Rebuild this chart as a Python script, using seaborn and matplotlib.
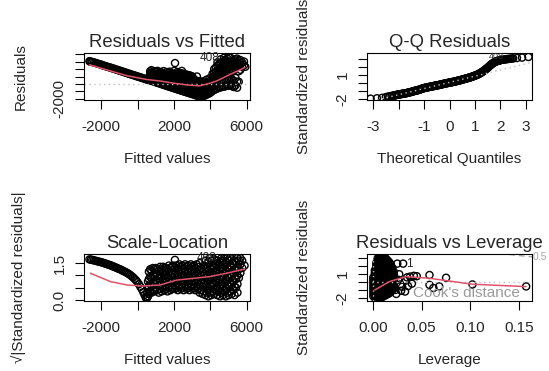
import matplotlib
matplotlib.use("Agg")
import matplotlib.pyplot as plt
import seaborn as sns
import pandas as pd

# ---------------- data ----------------
# Panel 1: Residuals vs Fitted -- left arm of points
fitted_arm = [-2650, -2600, -2540, -2480, -2400, -2330, -2250, -2170, -2090, -2000,
              -1920, -1840, -1760, -1680, -1600, -1520, -1440, -1360, -1280, -1200,
              -1120, -1040, -960, -880, -800, -720, -640, -560, -480, -400,
              -320, -240, -160, -80, 0, 80, 160, 240, 320, 400, 480, 560, 640]
resid_arm = [3050, 2990, 2970, 2930, 2880, 2830, 2760, 2700, 2650, 2590,
             2500, 2450, 2380, 2320, 2260, 2210, 2140, 2080, 2020, 1950,
             1890, 1820, 1770, 1690, 1640, 1570, 1510, 1440, 1380, 1320,
             1250, 1190, 1130, 1060, 1000, 940, 880, 810, 750, 690, 620, 560, 500]
# Panel 1: dense cloud, one column of residuals per fitted value
fitted_cols = [690, 760, 845, 930, 1010, 1095, 1180, 1260, 1345, 1430,
               1510, 1595, 1680, 1760, 1845, 1930, 2010, 2055, 2095, 2180,
               2260, 2345, 2430, 2510, 2595, 2680, 2760, 2845, 2930, 3010,
               3095, 3180, 3260, 3345, 3430, 3510, 3600, 3690, 3780, 3860,
               3950, 4040,
               4120, 4210, 4300, 4390, 4480, 4570, 4660, 4750, 4840, 4930,
               5020, 5110, 5200, 5290, 5380, 5470, 5560, 5650, 5740, 5850, 5920]
resid_cols = [
    [480, 900, 1300, 1700], [420, 760, 1150, 1550, 1850], [360, 690, 1080, 1450],
    [290, 640, 980, 1350, 1700], [220, 560, 950, 1300, 1600], [150, 480, 880, 1250, 1750],
    [90, 430, 800, 1180, 1500], [20, 380, 740, 1120, 1600], [-50, 300, 680, 1050, 1420],
    [-120, 230, 600, 1000, 1380, 1720], [-180, 160, 540, 930, 1300],
    [-250, 100, 470, 860, 1250, 1600], [-320, 30, 400, 790, 1180, 1500],
    [-380, -30, 350, 740, 1120, 1650], [-450, -100, 280, 670, 1050, 1420],
    [-520, -160, 220, 600, 990, 1380], [-580, -220, 160, 540, 930, 1330, 1750],
    [2800], [-650, -290, 90, 480, 870, 1250], [-720, -350, 30, 420, 800, 1200, 1600],
    [-780, -410, -30, 360, 750, 1150, 1500], [-850, -480, -90, 300, 680, 1080, 1450],
    [-910, -540, -150, 240, 620, 1020, 1400, 1750], [-980, -600, -210, 180, 560, 960, 1350],
    [-1040, -660, -270, 120, 500, 900, 1300], [-1110, -730, -340, 60, 440, 850, 1250],
    [-1170, -790, -400, 0, 390, 800, 1200], [-1240, -850, -460, -60, 330, 740, 1150],
    [-1300, -910, -520, -120, 270, 680, 1080], [-1360, -970, -580, -180, 210, 620, 1000],
    [-1430, -1040, -640, -240, 150, 560], [-1500, -1100, -700, -300, 100, 500],
    [-1570, -1170, -760, -360, 50, 1000], [-1640, -1230, -820, -420, -10, 380],
    [-1700, -1290, -880, -470, -60, 320], [-1720, -1320, -920, -520, -100],
    [-1650, -1260, -860, -450, -50, 350], [-1550, -1150, -760, -350, 60],
    [-1450, -1050, -650, -250, 150, 550], [-1350, -950, -550, -150, 250],
    [-1250, -850, -450, -50, 350, 750], [-1100, -700, -300, 100, 500],
    [-900, -300, 300, 900, 1350], [-800, -200, 450, 1000, 1500, 2000],
    [-700, -100, 600, 1100, 1600, 2200], [-600, 0, 750, 1250, 1750, 2450, 2900],
    [-500, 150, 900, 1400, 1950, 2650], [-450, 250, 1000, 1550, 2150, 2850, 3300],
    [-400, 300, 1100, 1700, 2300, 2900], [-350, 400, 1250, 1850, 2500, 3100, 3500],
    [-300, 500, 1400, 2000, 2650, 3250], [-250, 600, 1500, 2100, 2750, 3400],
    [-200, 700, 1600, 2250, 2900, 3550], [-150, 800, 1700, 2350, 3000, 3500],
    [-300, 600, 1800, 2500, 3100], [-400, 400, 1900, 2600, 3200],
    [-200, 800, 2100, 2700, 3300], [-500, 300, 2300, 2900, 3400],
    [300, 1700, 2500, 3100], [1900, 2600, 3200], [2300, 2900], [2500, 3000], [2300],
]
smooth1_x = [-2650, -1500, -580, 500, 1230, 2000, 2800, 3400, 3900, 4350, 5100, 5900]
smooth1_y = [2570, 1750, 1100, 600, 400, 100, -150, -260, 50, 400, 1300, 2200]

# Panel 2: Q-Q Residuals
qq_theoretical = [
    -3.1, -2.85, -2.65, -2.5, -2.42, -2.35, -2.28, -2.2,
    -2.15, -2.1, -2.05, -2.0, -1.95, -1.9, -1.85, -1.8, -1.75, -1.7,
    -1.65, -1.6, -1.55, -1.5, -1.45, -1.4, -1.35, -1.3, -1.25, -1.2,
    -1.15, -1.1, -1.05, -1.0, -0.95, -0.9, -0.85, -0.8, -0.75, -0.7,
    -0.65, -0.6, -0.55, -0.5, -0.45, -0.4, -0.35, -0.3, -0.25, -0.2,
    -0.15, -0.1, -0.05, 0.0, 0.05, 0.1, 0.15, 0.2, 0.25, 0.3,
    0.35, 0.4, 0.45, 0.5, 0.55, 0.6, 0.65, 0.7, 0.75, 0.8,
    0.85, 0.9, 0.95, 1.0, 1.05, 1.1, 1.15, 1.2, 1.25, 1.3,
    1.35, 1.4, 1.45, 1.5, 1.55, 1.6, 1.65, 1.7, 1.75, 1.8,
    1.85, 1.9, 1.95, 2.0, 2.1, 2.2, 2.3, 2.4, 2.5, 2.65, 2.85, 3.1,
]
qq_std_resid = [
    -1.95, -1.9, -1.85, -1.75, -1.7, -1.65, -1.6, -1.56,
    -1.53, -1.5, -1.46, -1.43, -1.40, -1.37, -1.35, -1.32, -1.29, -1.26,
    -1.22, -1.18, -1.14, -1.10, -1.05, -1.0, -0.96, -0.92, -0.88, -0.84,
    -0.78, -0.72, -0.67, -0.62, -0.58, -0.55, -0.51, -0.48, -0.45, -0.42,
    -0.38, -0.35, -0.31, -0.28, -0.25, -0.22, -0.18, -0.14, -0.1, -0.07,
    -0.03, 0.0, 0.04, 0.07, 0.1, 0.13, 0.17, 0.2, 0.24, 0.28,
    0.32, 0.36, 0.4, 0.45, 0.49, 0.54, 0.58, 0.63, 0.67, 0.72,
    0.77, 0.83, 0.89, 0.95, 1.01, 1.08, 1.16, 1.25, 1.35, 1.45,
    1.57, 1.7, 1.82, 1.95, 2.1, 2.25, 2.38, 2.5, 2.6, 2.7,
    2.76, 2.82, 2.86, 2.9, 2.95, 3.0, 3.05, 3.08, 3.12, 3.17, 3.22, 3.3,
]
# further points of the dense part of the Q-Q band
qq_theoretical_mid = [
    -2.175, -2.125, -2.075, -2.025, -1.975, -1.925, -1.875, -1.825, -1.775, -1.725,
    -1.675, -1.625, -1.575, -1.525, -1.475, -1.425, -1.375, -1.325, -1.275, -1.225,
    -1.175, -1.125, -1.075, -1.025, -0.975, -0.925, -0.875, -0.825, -0.775, -0.725,
    -0.675, -0.625, -0.575, -0.525, -0.475, -0.425, -0.375, -0.325, -0.275, -0.225,
    -0.175, -0.125, -0.075, -0.025, 0.025, 0.075, 0.125, 0.175, 0.225, 0.275,
    0.325, 0.375, 0.425, 0.475, 0.525, 0.575, 0.625, 0.675, 0.725, 0.775,
    0.825, 0.875, 0.925, 0.975, 1.025, 1.075, 1.125, 1.175, 1.225, 1.275,
    1.325, 1.375, 1.425, 1.475, 1.525, 1.575, 1.625, 1.675, 1.725, 1.775,
    1.825, 1.875, 1.925, 1.975, 2.05, 2.15, 2.25, 2.35, 2.45,
]
qq_std_resid_mid = [
    -1.545, -1.515, -1.48, -1.445, -1.415, -1.385, -1.36, -1.335, -1.305, -1.275,
    -1.24, -1.2, -1.16, -1.12, -1.075, -1.025, -0.98, -0.94, -0.9, -0.86,
    -0.81, -0.75, -0.695, -0.645, -0.6, -0.565, -0.53, -0.495, -0.465, -0.435,
    -0.4, -0.365, -0.33, -0.295, -0.265, -0.235, -0.2, -0.16, -0.12, -0.085,
    -0.05, -0.015, 0.02, 0.055, 0.085, 0.115, 0.15, 0.185, 0.22, 0.26,
    0.3, 0.34, 0.38, 0.425, 0.47, 0.515, 0.56, 0.605, 0.65, 0.695,
    0.745, 0.8, 0.86, 0.92, 0.98, 1.045, 1.12, 1.205, 1.3, 1.4,
    1.51, 1.635, 1.76, 1.885, 2.025, 2.175, 2.315, 2.44, 2.55, 2.65,
    2.73, 2.79, 2.84, 2.88, 2.93, 2.975, 3.025, 3.065, 3.1,
]
qqline_x = [-3.4, 3.4]
qqline_y = [-2.55, 2.75]

# Panel 3: Scale-Location -- left arm
sl_fitted_arm = [-2650, -2570, -2490, -2410, -2330, -2250, -2170, -2090, -2010, -1930,
                 -1850, -1770, -1690, -1610, -1530, -1450, -1370, -1290, -1210, -1130,
                 -1050, -970, -890, -810, -730, -650, -570, -490, -410, -330,
                 -250, -170, -90, -10, 70, 150, 230, 310, 380, 440, 490]
sl_sqrt_arm = [1.65, 1.64, 1.63, 1.61, 1.60, 1.58, 1.57, 1.55, 1.54, 1.52,
               1.50, 1.48, 1.46, 1.44, 1.42, 1.40, 1.37, 1.35, 1.32, 1.30,
               1.27, 1.25, 1.22, 1.19, 1.16, 1.13, 1.10, 1.06, 1.02, 0.97,
               0.92, 0.86, 0.80, 0.73, 0.64, 0.54, 0.44, 0.32, 0.21, 0.12, 0.05]
# Panel 3: cloud columns
sl_fitted_cols = [520, 570, 620, 690, 760, 840, 920, 1000, 1080, 1160,
                  1240, 1320, 1400, 1480, 1560, 1640, 1720, 1800, 1880, 1960,
                  2050, 2130, 2210, 2290, 2370, 2450, 2530, 2610, 2690, 2770,
                  2850, 2930, 3010, 3090, 3170, 3250, 3330, 3410, 3490, 3570,
                  3650, 3730, 3810, 3890, 3970, 4050, 4130, 4210, 4290, 4370,
                  4450, 4530, 4610, 4690, 4770, 4850, 4930, 5010, 5090, 5170,
                  5250, 5330, 5410, 5490, 5570, 5650, 5750, 5880]
sl_sqrt_cols = [
    [0.1, 0.3], [0.15, 0.45, 0.75], [0.25, 0.55, 0.85, 1.15], [0.35, 0.65, 0.95, 1.25],
    [0.3, 0.6, 0.9, 1.2], [0.4, 0.7, 1.0, 1.3], [0.35, 0.65, 0.95, 1.25],
    [0.45, 0.75, 1.05, 1.3], [0.4, 0.7, 1.0, 1.25], [0.3, 0.6, 0.9, 1.2],
    [0.45, 0.75, 1.05, 1.35], [0.35, 0.65, 0.95, 1.25], [0.5, 0.8, 1.1, 1.35],
    [0.4, 0.7, 1.0, 1.3], [0.45, 0.75, 1.05, 1.3], [0.35, 0.65, 0.95, 1.25],
    [0.5, 0.8, 1.1, 1.4], [0.4, 0.7, 1.0, 1.3], [0.45, 0.75, 1.05, 1.35],
    [0.5, 0.8, 1.1, 1.4], [0.45, 0.75, 1.05, 1.3, 1.63], [0.5, 0.8, 1.1, 1.4],
    [0.4, 0.7, 1.0, 1.3], [0.55, 0.85, 1.15, 1.45], [0.45, 0.75, 1.05, 1.35],
    [0.5, 0.8, 1.1, 1.4], [0.4, 0.7, 1.0, 1.3], [0.55, 0.85, 1.15, 1.45],
    [0.45, 0.75, 1.05, 1.35], [0.5, 0.8, 1.1, 1.4], [0.4, 0.7, 1.0, 1.3],
    [0.55, 0.85, 1.15, 1.45], [0.45, 0.75, 1.05, 1.35], [0.5, 0.8, 1.1, 1.4],
    [0.4, 0.7, 1.0, 1.3], [0.55, 0.85, 1.15, 1.45], [0.45, 0.75, 1.05, 1.35],
    [0.3, 0.6, 0.9, 1.2, 1.5], [0.4, 0.7, 1.0, 1.3], [0.25, 0.55, 0.85, 1.15],
    [0.35, 0.7, 1.05, 1.4], [0.2, 0.55, 0.9, 1.25, 1.6], [0.3, 0.65, 1.0, 1.35],
    [0.15, 0.5, 0.85, 1.2, 1.55], [0.3, 0.65, 1.0, 1.35, 1.7], [0.2, 0.55, 0.9, 1.25, 1.6],
    [0.35, 0.7, 1.05, 1.4], [0.25, 0.6, 0.95, 1.3, 1.65], [0.4, 0.75, 1.1, 1.45],
    [0.2, 0.55, 0.9, 1.25, 1.6], [0.35, 0.7, 1.05, 1.4, 1.75], [0.15, 0.5, 0.85, 1.2, 1.55],
    [0.3, 0.65, 1.0, 1.35, 1.7], [0.2, 0.55, 0.9, 1.25, 1.6], [0.35, 0.7, 1.05, 1.4, 1.75],
    [0.15, 0.5, 0.85, 1.2, 1.55], [0.3, 0.65, 1.0, 1.35, 1.7], [0.2, 0.55, 0.9, 1.25, 1.6],
    [0.35, 0.7, 1.05, 1.4, 1.75], [0.25, 0.6, 0.95, 1.3, 1.65], [0.4, 0.75, 1.1, 1.45],
    [0.2, 0.55, 0.9, 1.25, 1.6], [0.5, 0.85, 1.2, 1.55], [0.3, 0.65, 1.0, 1.35, 1.7],
    [0.9, 1.25, 1.6], [1.1, 1.45, 1.7], [1.3, 1.6], [1.4],
]
smooth3_x = [-2600, -1500, -580, 300, 1230, 2150, 3050, 3970, 4900, 5900]
smooth3_y = [1.09, 0.75, 0.61, 0.57, 0.61, 0.81, 0.88, 0.95, 1.09, 1.26]

# Panel 4: Residuals vs Leverage -- dense blob columns + scattered points
lev_cols = [0.0005, 0.002, 0.0035, 0.005, 0.0065, 0.008, 0.0095, 0.011,
            0.0125, 0.014, 0.0155, 0.017, 0.0185, 0.02, 0.0215]
lev_resid_cols = [
    [-1.8, -1.45, -1.1, -0.75, -0.4, -0.05, 0.3, 0.6],
    [-2.0, -1.65, -1.3, -0.95, -0.6, -0.25, 0.1, 0.45, 0.8, 1.15, 1.5],
    [-2.1, -1.75, -1.4, -1.05, -0.7, -0.35, 0.0, 0.35, 0.7, 1.05, 1.4, 1.75, 2.1, 2.45],
    [-2.05, -1.7, -1.35, -1.0, -0.65, -0.3, 0.05, 0.4, 0.75, 1.1, 1.45, 1.8, 2.15, 2.5, 2.85, 3.05],
    [-2.0, -1.65, -1.3, -0.95, -0.6, -0.25, 0.1, 0.45, 0.8, 1.15, 1.5, 1.85, 2.2, 2.55, 2.9, 3.2],
    [-1.95, -1.6, -1.25, -0.9, -0.55, -0.2, 0.15, 0.5, 0.85, 1.2, 1.55, 1.9, 2.25, 2.6, 2.95, 3.3],
    [-1.9, -1.55, -1.2, -0.85, -0.5, -0.15, 0.2, 0.55, 0.9, 1.25, 1.6, 1.95, 2.3, 2.65, 3.0, 3.3],
    [-1.8, -1.45, -1.1, -0.75, -0.4, -0.05, 0.3, 0.65, 1.0, 1.35, 1.7, 2.05, 2.4, 2.75, 3.15],
    [-1.7, -1.35, -1.0, -0.65, -0.3, 0.05, 0.4, 0.75, 1.1, 1.45, 1.8, 2.15, 2.5, 2.85, 3.1],
    [-1.6, -1.25, -0.9, -0.55, -0.2, 0.15, 0.5, 0.85, 1.2, 1.55, 1.9, 2.25, 2.6, 2.9],
    [-1.5, -1.15, -0.8, -0.45, -0.1, 0.25, 0.6, 0.95, 1.3, 1.65, 2.0, 2.35, 2.7],
    [-1.4, -1.05, -0.7, -0.35, 0.0, 0.35, 0.7, 1.05, 1.4, 1.75, 2.1, 2.5],
    [-1.2, -0.85, -0.5, -0.15, 0.2, 0.55, 0.9, 1.25, 1.6, 1.95, 2.2],
    [-1.0, -0.65, -0.3, 0.05, 0.4, 0.75, 1.1, 1.45, 1.8],
    [-0.8, -0.45, -0.1, 0.25, 0.6, 0.95, 1.3],
]
lev_extra = [0.023, 0.024, 0.025, 0.026, 0.027, 0.028, 0.029, 0.030, 0.031, 0.033,
             0.034, 0.035, 0.036, 0.038, 0.040, 0.042, 0.045,
             0.058, 0.075, 0.058, 0.062, 0.068, 0.102, 0.157]
lev_extra_resid = [-1.0, -1.5, 2.35, 0.3, 1.0, -0.3, -1.1, -0.6, 2.35, -1.2,
                   0.2, 0.6, -0.5, 0.7, -0.2, 0.8, 0.75,
                   0.9, 0.55, -0.35, -0.75, -0.55, -0.3, -0.55]
smooth4_x = [0.002, 0.017, 0.034, 0.058, 0.102, 0.157]
smooth4_y = [-1.0, 0.07, 0.7, 0.49, -0.27, -0.57]
cook_x = [0.12, 0.13, 0.14, 0.15, 0.16, 0.17]
cook_y = [3.83, 3.66, 3.51, 3.37, 3.24, 3.13]


def flatten(xs, cols):
    fx, fy = [], []
    for x, ys in zip(xs, cols):
        for y in ys:
            fx.append(x)
            fy.append(y)
    return fx, fy


# ---------------- style ----------------
sns.set_theme(style="white")
plt.rcParams["font.family"] = ["Liberation Sans", "DejaVu Sans"]
plt.rcParams["axes.edgecolor"] = "black"
plt.rcParams["axes.linewidth"] = 0.8

RED = "#DF536B"
GRAY = "#BEBEBE"
DOT = (0, (1, 2.5))

fig = plt.figure(figsize=(5.49, 3.71), dpi=100)
fig.patch.set_facecolor("white")

W, H = 549.0, 371.0
def box(l, t, r, b):
    return [l / W, 1 - b / H, (r - l) / W, (b - t) / H]

ax1 = fig.add_axes(box(84, 53, 250, 100))
ax2 = fig.add_axes(box(367, 53, 532, 100))
ax3 = fig.add_axes(box(84, 254, 250, 301))
ax4 = fig.add_axes(box(367, 254, 532, 301))

pt_kw = dict(marker="o", s=26, facecolor="none", edgecolor="black", linewidth=1.0, legend=False)


def style(ax, title, xlabel, ylabel, xl_y, yl_x):
    ax.set_facecolor("white")
    for s in ax.spines.values():
        s.set_visible(True)
        s.set_color("black")
        s.set_linewidth(0.8)
    ax.set_title(title, fontsize=13.3, pad=4.5)
    ax.set_xlabel(xlabel, fontsize=11, va="top")
    ax.set_ylabel(ylabel, fontsize=11)
    ax.xaxis.set_label_coords(0.5, xl_y)
    ax.yaxis.set_label_coords(yl_x, 0.5)
    ax.tick_params(axis="both", which="both", direction="out", length=6.5, width=0.8,
                   labelsize=11, color="black", left=True, bottom=True)
    ax.tick_params(axis="x", pad=8)
    ax.tick_params(axis="y", pad=6)
    for lab in ax.get_yticklabels():
        lab.set_rotation(90)
        lab.set_va("center")


# ---- Panel 1
cx, cy = flatten(fitted_cols, resid_cols)
df1 = pd.DataFrame({"fitted": fitted_arm + cx, "resid": resid_arm + cy})
sns.scatterplot(data=df1, x="fitted", y="resid", ax=ax1, **pt_kw)
ax1.axhline(0, color=GRAY, linestyle=DOT, linewidth=1.0)
sns.lineplot(x=smooth1_x, y=smooth1_y, ax=ax1, color=RED, linewidth=1.1, sort=False, estimator=None)
ax1.text(3400, 3450, "408", fontsize=8.5, va="center", ha="left")
ax1.set_xlim(-2950, 6180)
ax1.set_ylim(-2150, 4150)
ax1.set_xticks([-2000, 0, 2000, 4000, 6000])
ax1.set_xticklabels(["-2000", "", "2000", "", "6000"])
ax1.set_yticks([-2000, -1000, 0, 1000, 2000, 3000, 4000])
ax1.set_yticklabels(["-2000", "", "", "", "", "", ""])
style(ax1, "Residuals vs Fitted", "Fitted values", "Residuals", -1.117, -0.337)

# ---- Panel 2
df2 = pd.DataFrame({"q": qq_theoretical + qq_theoretical_mid,
                    "r": qq_std_resid + qq_std_resid_mid})
sns.scatterplot(data=df2, x="q", y="r", ax=ax2, **pt_kw)
ax2.plot(qqline_x, qqline_y, color=GRAY, linestyle=DOT, linewidth=1.0)
ax2.text(1.55, 3.35, "408", fontsize=6.5, va="center", ha="left", color="#333333")
ax2.set_xlim(-3.24, 3.24)
ax2.set_ylim(-2.12, 3.8)
ax2.set_xticks([-3, -2, -1, 0, 1, 2, 3])
ax2.set_xticklabels(["-3", "", "-1", "0", "1", "2", "3"])
ax2.set_yticks([-2, -1, 0, 1, 2, 3])
ax2.set_yticklabels(["-2", "", "", "1", "", ""])
style(ax2, "Q-Q Residuals", "Theoretical Quantiles", "Standardized residuals", -1.117, -0.339)

# ---- Panel 3
sx, sy = flatten(sl_fitted_cols, sl_sqrt_cols)
df3 = pd.DataFrame({"fitted": sl_fitted_arm + sx, "s": sl_sqrt_arm + sy})
sns.scatterplot(data=df3, x="fitted", y="s", ax=ax3, **pt_kw)
sns.lineplot(x=smooth3_x, y=smooth3_y, ax=ax3, color=RED, linewidth=1.1, sort=False, estimator=None)
ax3.text(3250, 1.72, "408", fontsize=8.5, va="center", ha="left")
ax3.set_xlim(-2950, 6180)
ax3.set_ylim(-0.04, 1.87)
ax3.set_xticks([-2000, 0, 2000, 4000, 6000])
ax3.set_xticklabels(["-2000", "", "2000", "", "6000"])
ax3.set_yticks([0.0, 0.5, 1.0, 1.5])
ax3.set_yticklabels(["0.0", "", "", "1.5"])
style(ax3, "Scale-Location", "Fitted values", "\u221a|Standardized residuals|", -1.096, -0.349)

# ---- Panel 4
lx, ly = flatten(lev_cols, lev_resid_cols)
df4 = pd.DataFrame({"lev": lx + lev_extra, "r": ly + lev_extra_resid})
sns.scatterplot(data=df4, x="lev", y="r", ax=ax4, **pt_kw)
ax4.axhline(0, color=GRAY, linestyle=DOT, linewidth=1.0)
ax4.axvline(0, color=GRAY, linestyle=DOT, linewidth=1.0)
sns.lineplot(x=smooth4_x, y=smooth4_y, ax=ax4, color=RED, linewidth=1.1, sort=False, estimator=None)
ax4.plot(cook_x, cook_y, color="#AAAAAA", linestyle=(0, (4, 3)), linewidth=1.0)
ax4.text(0.041, -1.36, "Cook's distance", fontsize=11, color="#999999", va="center", ha="left")
ax4.text(0.034, 2.35, "1", fontsize=8.5, va="center", ha="left")
ax4.text(1.005, 3.2, "0.5", fontsize=7.5, color="#AAAAAA", va="center", ha="left",
         transform=ax4.get_yaxis_transform(), clip_on=False)
ax4.set_xlim(-0.006, 0.163)
ax4.set_ylim(-2.4, 3.57)
ax4.set_xticks([0.0, 0.05, 0.10, 0.15])
ax4.set_xticklabels(["0.00", "0.05", "0.10", "0.15"])
ax4.set_yticks([-2, -1, 0, 1, 2, 3])
ax4.set_yticklabels(["-2", "", "", "1", "", ""])
style(ax4, "Residuals vs Leverage", "Leverage", "Standardized residuals", -1.096, -0.339)

fig.savefig("out.png", dpi=100)
